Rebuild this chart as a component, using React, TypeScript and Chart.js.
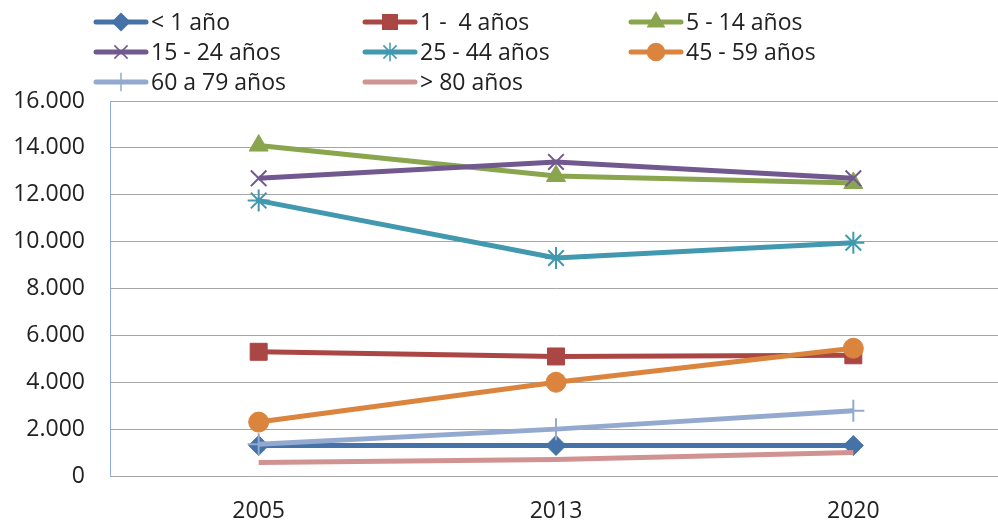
import React, { useEffect, useRef } from "react";
import { Chart, registerables } from "chart.js";
import { drawPoint } from "chart.js/helpers";

Chart.register(...registerables);

const categories = ["2005", "2013", "2020"];
const seriesLabels = [
  "< 1 año",
  "1 -  4 años",
  "5 - 14 años",
  "15 - 24 años",
  "25 - 44 años",
  "45 - 59 años",
  "60 a 79 años",
  "> 80 años",
];
const menos1 = [1300, 1300, 1300];
const de1a4 = [5300, 5100, 5150];
const de5a14 = [14100, 12800, 12500];
const de15a24 = [12700, 13400, 12700];
const de25a44 = [11750, 9300, 9950];
const de45a59 = [2300, 4000, 5450];
const de60a79 = [1350, 2000, 2780];
const mas80 = [580, 700, 1000];
const seriesValues = [menos1, de1a4, de5a14, de15a24, de25a44, de45a59, de60a79, mas80];
const seriesColors = ["#4572A7", "#AA4643", "#89A54E", "#71588F", "#4198AF", "#DB843D", "#93A9CF", "#D19392"];
const seriesMarkers = ["rectRot", "rect", "triangle", "crossRot", "star", "circle", "cross", "circle"];
const seriesRadius = [10, 12, 11, 11, 11, 10, 11, 0];
const yMax = 16000;
const yStep = 2000;

const FONT = '"Open Sans", "DejaVu Sans", sans-serif';
const LEGEND_COL_X = [94, 363, 629];
const LEGEND_ROW_Y = [22, 52, 82];
const CANVAS_W = 1015;
const CANVAS_H = 521;

function fmt(v: number): string {
  return String(Math.round(v)).replace(/\B(?=(\d{3})+(?!\d))/g, ".");
}

const legendPlugin = {
  id: "customLegend",
  afterDraw(chart: any) {
    const ctx = chart.ctx as CanvasRenderingContext2D;
    ctx.save();
    chart.data.datasets.forEach((ds: any, i: number) => {
      const col = i % 3;
      const row = Math.floor(i / 3);
      const x0 = LEGEND_COL_X[col];
      const y = LEGEND_ROW_Y[row];
      ctx.strokeStyle = ds.borderColor;
      ctx.lineWidth = 5;
      ctx.lineCap = "round";
      ctx.beginPath();
      ctx.moveTo(x0 + 2, y);
      ctx.lineTo(x0 + 52, y);
      ctx.stroke();
      if (ds.pointRadius > 0) {
        ctx.fillStyle = ds.pointBackgroundColor;
        ctx.strokeStyle = ds.pointBorderColor;
        ctx.lineWidth = 1.5;
        ctx.lineCap = "butt";
        drawPoint(ctx, { pointStyle: ds.pointStyle, rotation: 0, radius: ds.pointRadius * 0.85, borderWidth: 1.5 } as any, x0 + 27, y);
      }
      ctx.fillStyle = "#222222";
      ctx.font = `23px ${FONT}`;
      ctx.textAlign = "left";
      ctx.textBaseline = "middle";
      ctx.fillText(ds.label, x0 + 57, y + 1);
    });
    ctx.restore();
  },
};

export default function App() {
  const ref = useRef<HTMLCanvasElement | null>(null);
  useEffect(() => {
    if (!ref.current) return;
    document.body.style.margin = "0";
    document.body.style.overflow = "hidden";
    document.documentElement.style.overflow = "hidden";
    const datasets = seriesLabels.map((label, i) => ({
      label,
      data: seriesValues[i],
      borderColor: seriesColors[i],
      backgroundColor: seriesColors[i],
      pointBackgroundColor: seriesColors[i],
      pointBorderColor: seriesColors[i],
      pointStyle: seriesMarkers[i],
      pointRadius: seriesRadius[i],
      pointBorderWidth: seriesMarkers[i] === "crossRot" || seriesMarkers[i] === "star" || seriesMarkers[i] === "cross" ? 2 : 1,
      borderWidth: 5,
      tension: 0,
      fill: false,
      order: 20 - i,
    }));
    const chart = new Chart(ref.current, {
      type: "line",
      data: { labels: categories, datasets },
      plugins: [legendPlugin],
      options: {
        animation: false,
        responsive: false,
        maintainAspectRatio: false,
        devicePixelRatio: 1,
        layout: { padding: { top: 101, right: 2, left: 0, bottom: 0 } },
        plugins: { legend: { display: false }, tooltip: { enabled: false }, title: { display: false } },
        scales: {
          x: {
            offset: true,
            grid: { display: false, drawTicks: false },
            border: { display: true, color: "#a6a6a6", width: 1 },
            ticks: { color: "#222222", font: { family: FONT, size: 23 }, padding: 22, maxRotation: 0 },
            afterFit: (s: any) => {
              s.height = 45;
            },
          },
          y: {
            min: 0,
            max: yMax,
            ticks: {
              stepSize: yStep,
              color: "#222222",
              font: { family: FONT, size: 23 },
              padding: 25,
              callback: (v: any) => fmt(Number(v)),
            },
            grid: {
              drawTicks: false,
              color: (c: any) => (c.tick && c.tick.value === yMax ? "#8eaadb" : "#a6a6a6"),
              lineWidth: 1,
            },
            border: { display: true, color: "#8eaadb", width: 1 },
            afterFit: (s: any) => {
              s.width = 110;
            },
          },
        },
      } as any,
    });
    return () => chart.destroy();
  }, []);
  return (
    <div style={{ position: "fixed", left: 0, top: 0, width: 998, height: 521, overflow: "hidden", background: "#fff" }}>
      <div style={{ position: "absolute", left: 0, top: 0, width: CANVAS_W, height: CANVAS_H }}>
        <canvas ref={ref} width={CANVAS_W} height={CANVAS_H} style={{ width: CANVAS_W, height: CANVAS_H, display: "block" }} />
      </div>
    </div>
  );
}
